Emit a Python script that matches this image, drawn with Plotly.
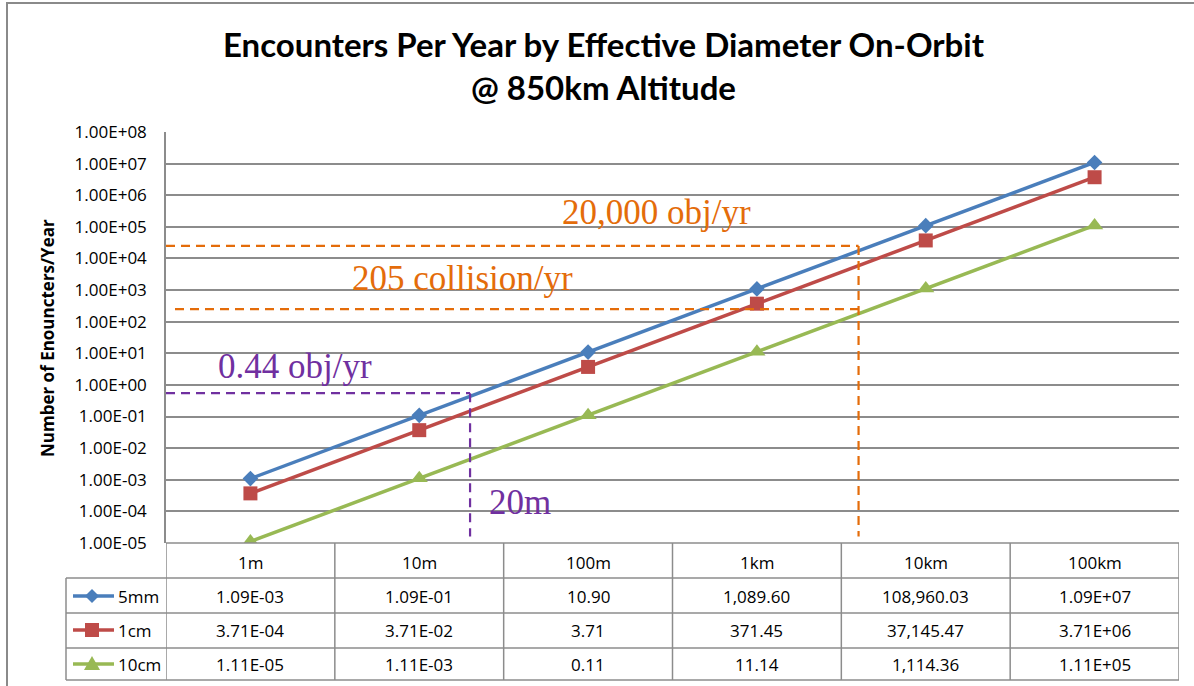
import math
import plotly.graph_objects as go

# ---------------- data ----------------
diam_labels = ["1m", "10m", "100m", "1km", "10km", "100km"]
diam_m = [1, 10, 100, 1000, 10000, 100000]
sci_columns = [False, False, False, False, False, True]   # table number style per column
series_names = ["5mm", "1cm", "10cm"]
vals_5mm = [1.09e-03, 1.09e-01, 10.90, 1089.60, 108960.03, 1.09e+07]
vals_1cm = [3.71e-04, 3.71e-02, 3.71, 371.45, 37145.47, 3.71e+06]
vals_10cm = [1.11e-05, 1.11e-03, 0.11, 11.14, 1114.36, 1.11e+05]
y_tick_vals = [10.0 ** e for e in range(-5, 9)]
y_tick_text = ["1.00E%+03d" % e if e < 0 else "1.00E+%02d" % e for e in range(-5, 9)]

# reference marks (as drawn in the picture)
ref_obj_rate = 2.5e4       # "20,000 obj/yr" line level
ref_coll_rate = 250        # "205 collision/yr" line level
ref_diam_km = 4000         # vertical orange line (m)
ref_small_rate = 0.55      # "0.44 obj/yr" line level
ref_small_diam = 20        # "20m" vertical line (m)

colors = ["#4A7EBB", "#BE4B48", "#98B954"]
symbols = ["diamond", "square", "triangle-up"]
marker_sizes = [12, 14, 15]

# ---------------- layout geometry ----------------
FW, FH = 1194, 686
PL, PR, PT, PB = 166, 1179, 132, 543
W, H = PR - PL, PB - PT


def pxx(x):
    return (x - PL) / W


def pxy(y):
    return (PB - y) / H


def fmt(v, sci):
    if sci or v < 0.11:
        return "%.2E" % v
    return "{:,.2f}".format(v)


GRID = "#8C8C8C"
ORANGE = "#E46C0A"
PURPLE = "#7030A0"
BASEFONT = "Open Sans"

fig = go.Figure()
all_vals = [vals_5mm, vals_1cm, vals_10cm]
for name, vals, c, s, ms in zip(series_names, all_vals, colors, symbols, marker_sizes):
    fig.add_trace(go.Scatter(
        x=diam_m, y=vals, name=name, mode="lines+markers",
        line=dict(color=c, width=3.5),
        marker=dict(symbol=s, size=ms, color=c),
        showlegend=False, hoverinfo="skip"))

shapes = []
annotations = []

# outer chart border
shapes.append(dict(type="rect", xref="paper", yref="paper",
                   x0=pxx(7), x1=pxx(1210), y0=pxy(3), y1=pxy(700),
                   line=dict(color="#8A8A8A", width=2), layer="below"))

# dashed reference lines (data coordinates)
xleft = 10 ** -0.5
dash = "9px,6px"
shapes += [
    dict(type="line", xref="x", yref="y", x0=xleft, x1=ref_diam_km,
         y0=ref_obj_rate, y1=ref_obj_rate, line=dict(color=ORANGE, width=2.2, dash=dash)),
    dict(type="line", xref="x", yref="y", x0=10 ** (-0.5 + 9 / 168.8), x1=ref_diam_km,
         y0=ref_coll_rate, y1=ref_coll_rate, line=dict(color=ORANGE, width=2.2, dash=dash)),
    dict(type="line", xref="x", yref="y", x0=ref_diam_km, x1=ref_diam_km,
         y0=ref_obj_rate, y1=1.6e-5, line=dict(color=ORANGE, width=2.2, dash=dash)),
    dict(type="line", xref="x", yref="y", x0=xleft, x1=ref_small_diam,
         y0=ref_small_rate, y1=ref_small_rate, line=dict(color=PURPLE, width=2.2, dash=dash)),
    dict(type="line", xref="x", yref="y", x0=ref_small_diam, x1=ref_small_diam,
         y0=ref_small_rate, y1=1.6e-5, line=dict(color=PURPLE, width=2.2, dash=dash)),
]

serif = dict(family="Liberation Serif", size=35)
for txt, ax_, ay_, col in [("20,000 obj/yr", 2.408, 5.44, ORANGE),
                           ("205 collision/yr", 1.254, 3.38, ORANGE),
                           ("0.44 obj/yr", 0.264, 0.57, PURPLE),
                           ("20m", 1.597, -3.73, PURPLE)]:
    annotations.append(dict(x=ax_, y=ay_, xref="x", yref="y", text=txt, showarrow=False,
                            xanchor="center", yanchor="middle", font=dict(color=col, **serif)))

# ---------------- data table ----------------
row_lines = [578, 613, 648, 680]
row_centers = [596, 630, 664]
leg_left = 66
tl = dict(color=GRID, width=1.5)
for k in range(len(diam_m) + 1):
    xb = 10 ** (k - 0.5)
    shapes.append(dict(type="line", xref="x", yref="paper", x0=xb, x1=xb,
                       y0=0, y1=pxy(row_lines[-1]), line=tl))
for yl in row_lines:
    shapes.append(dict(type="line", xref="paper", yref="paper", x0=pxx(leg_left), x1=1,
                       y0=pxy(yl), y1=pxy(yl), line=tl))
shapes.append(dict(type="line", xref="paper", yref="paper", x0=pxx(leg_left), x1=pxx(leg_left),
                   y0=pxy(row_lines[0]), y1=pxy(row_lines[-1]), line=tl))
shapes.append(dict(type="line", xref="paper", yref="paper", x0=0, x1=1,
                   y0=0, y1=0, line=tl))

cell_font = dict(family=BASEFONT, size=17, color="#000000")
for lab, d in zip(diam_labels, diam_m):
    annotations.append(dict(x=math.log10(d), y=pxy(562), xref="x", yref="paper",
                            xanchor="center", yanchor="middle",
                            text=lab, showarrow=False, font=cell_font))
for r, (name, vals, c) in enumerate(zip(series_names, all_vals, colors)):
    yc = row_centers[r]
    for v, d, sci in zip(vals, diam_m, sci_columns):
        annotations.append(dict(x=math.log10(d), y=pxy(yc), xref="x", yref="paper",
                                xanchor="center", yanchor="middle",
                                text=fmt(v, sci), showarrow=False, font=cell_font))
    # legend key
    shapes.append(dict(type="line", xref="paper", yref="paper", x0=pxx(73), x1=pxx(114),
                       y0=pxy(yc), y1=pxy(yc), line=dict(color=c, width=3.5)))
    cx = 92
    if r == 0:
        pts = [(cx, yc - 7), (cx + 7, yc), (cx, yc + 7), (cx - 7, yc)]
    elif r == 1:
        pts = [(cx - 7, yc - 7), (cx + 7, yc - 7), (cx + 7, yc + 7), (cx - 7, yc + 7)]
    else:
        pts = [(cx, yc - 8), (cx + 8, yc + 6), (cx - 8, yc + 6)]
    path = "M " + " L ".join("%f,%f" % (pxx(a), pxy(b)) for a, b in pts) + " Z"
    shapes.append(dict(type="path", xref="paper", yref="paper", path=path,
                       fillcolor=c, line=dict(color=c, width=0)))
    annotations.append(dict(x=pxx(116), y=pxy(yc), xref="paper", yref="paper",
                            xanchor="left", yanchor="middle", text=name,
                            showarrow=False, font=cell_font))

# title and axis title
annotations.append(dict(x=pxx(604), y=pxy(65), xref="paper", yref="paper",
                        xanchor="center", yanchor="middle",
                        text="Encounters Per Year by Effective Diameter On-Orbit<br>@ 850km Altitude",
                        showarrow=False, align="center",
                        font=dict(family="Lato", size=33, color="#000000", weight="bold")))
annotations.append(dict(x=pxx(47), y=pxy(338), xref="paper", yref="paper",
                        xanchor="center", yanchor="middle",
                        text="<b>Number of Enouncters/Year</b>", textangle=-90,
                        showarrow=False, font=dict(family=BASEFONT, size=17, color="#000000")))

fig.update_layout(
    width=FW, height=FH,
    margin=dict(l=PL, r=FW - PR, t=PT, b=FH - PB, pad=0),
    paper_bgcolor="white", plot_bgcolor="white",
    xaxis=dict(type="log", range=[-0.5, 5.5], showgrid=False, showticklabels=False,
               zeroline=False, showline=False, ticks=""),
    yaxis=dict(type="log", range=[-5, 8], tickvals=y_tick_vals, ticktext=y_tick_text,
               showgrid=True, gridcolor=GRID, gridwidth=1.5, showline=True,
               linecolor=GRID, linewidth=1.5, ticks="", ticklabelstandoff=14,
               tickfont=dict(family=BASEFONT, size=17, color="#000000"), zeroline=False),
    shapes=shapes, annotations=annotations,
)

fig.write_html("out.html", config={"displayModeBar": False},
               post_script="document.body.style.margin='0';")
